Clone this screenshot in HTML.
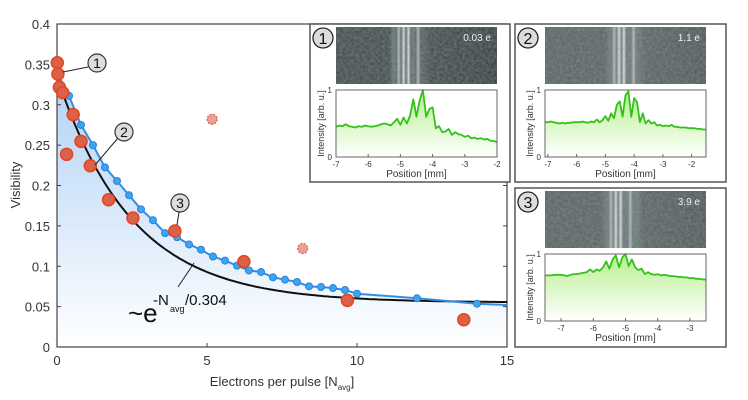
<!DOCTYPE html>
<html><head><meta charset="utf-8"><style>
html,body{margin:0;padding:0;background:#fff;}
svg{display:block;font-family:"Liberation Sans",Arial,sans-serif;}
</style></head><body>
<svg id="fig" width="748" height="400" viewBox="0 0 748 400" xmlns="http://www.w3.org/2000/svg">
<defs>
<linearGradient id="bluefill" x1="0" y1="0" x2="0" y2="1">
<stop offset="0" stop-color="#9cc6f3"/><stop offset="1" stop-color="#ffffff"/></linearGradient>
<linearGradient id="greenfill" x1="0" y1="0" x2="0" y2="1">
<stop offset="0" stop-color="#b6ef8c"/><stop offset="1" stop-color="#ffffff"/></linearGradient>
<filter id="noise" x="0" y="0" width="100%" height="100%">
<feTurbulence type="fractalNoise" baseFrequency="0.35" numOctaves="2" seed="3"/>
<feColorMatrix type="matrix" values="0 0 0 0 0.3  0 0 0 0 0.35  0 0 0 0 0.35  0 0 0 0.6 0"/>
<feComposite in2="SourceGraphic" operator="in"/>
</filter>
</defs>
<g id="main"></g>
<g id="insets"></g>
</svg>
<script>
// ---- main chart data ----
const blueX = [0,0.4,0.8,1.2,1.6,2.0,2.4,2.8,3.2,3.6,4.0,4.4,4.8,5.2,5.6,6.0,6.4,6.8,7.2,7.6,8.0,8.4,8.8,9.2,9.6,10.0,12,14,15];
const blueY = [0.34,0.311,0.275,0.250,0.2225,0.2056,0.188,0.1705,0.157,0.141,0.136,0.127,0.1205,0.112,0.107,0.1007,0.0948,0.0929,0.0863,0.0834,0.0805,0.0751,0.0743,0.073,0.0706,0.066,0.0603,0.0536,0.052];
const redX = [0.01,0.03,0.08,0.19,0.54,0.32,0.8,1.11,1.72,2.53,3.93,6.23,9.68,13.56];
const redY = [0.352,0.338,0.3216,0.315,0.2877,0.2386,0.2547,0.2245,0.1824,0.1598,0.1437,0.1057,0.0578,0.0338];
const outX = [5.17,8.19];
const outY = [0.282,0.122];
const fitParams = [0.055,0.28,2.5]; // offset, amplitude, decay
const xTicks = [0,5,10,15];
const yTicks = [0,0.05,0.1,0.15,0.2,0.25,0.3,0.35,0.4];
const yTickLabels = ["0","0.05","0.1","0.15","0.2","0.25","0.3","0.35","0.4"];
// ---- inset data ----
const prof1 = [.45,.47,.46,.49,.46,.45,.44,.46,.45,.47,.46,.45,.46,.47,.49,.50,.49,.47,.52,.57,.48,.59,.50,.62,.86,.60,.85,1.0,.6,.72,.74,.43,.46,.37,.38,.42,.33,.37,.34,.33,.30,.32,.28,.29,.27,.28,.26,.27,.24,.24,.22];
const prof2 = [.52,.52,.53,.52,.51,.50,.51,.50,.51,.51,.52,.52,.52,.53,.52,.51,.53,.52,.56,.52,.55,.61,.54,.65,.58,.78,.83,.6,.92,.98,.6,.88,.82,.52,.65,.5,.55,.5,.52,.47,.48,.46,.47,.46,.48,.45,.45,.44,.44,.44,.43,.43,.43,.42,.42,.41,.41];
const prof3 = [.68,.68,.68,.69,.69,.69,.68,.67,.69,.70,.70,.71,.72,.73,.77,.73,.77,.75,.80,.89,.78,.92,.98,.80,.95,1.0,.82,.92,.80,.76,.78,.70,.73,.70,.69,.70,.68,.69,.68,.67,.67,.66,.66,.65,.65,.64,.64,.63,.63,.62,.62];
const profStart = [-7.0,-7.1,-7.5];
const profDomain = [[-7,-2],[-7.1,-1.5],[-7.5,-2.5]];
const profTicks = [[-7,-6,-5,-4,-3,-2],[-7,-6,-5,-4,-3,-2],[-7,-6,-5,-4,-3]];
const insetLabels = ["0.03 e","1.1 e","3.9 e"];

const NS="http://www.w3.org/2000/svg";
function mk(tag,attrs,parent,txt){const e=document.createElementNS(NS,tag);for(const k in attrs)e.setAttribute(k,attrs[k]);if(txt!==undefined)e.textContent=txt;parent.appendChild(e);return e;}
const main=document.getElementById('main');
const X0=57,X1=507,Y0=347,Y1=24;
const sx=v=>X0+(v-0)/15*(X1-X0);
const sy=v=>Y0-(v/0.4)*(Y0-Y1);

let d='M'+sx(blueX[0])+','+Y0;
blueX.forEach((x,i)=>d+=' L'+sx(x).toFixed(1)+','+sy(blueY[i]).toFixed(1));
d+=' L'+sx(15)+','+Y0+' Z';
let e=mk('path',{d:d,fill:'url(#bluefill)',opacity:'0.8'},main);



e=mk('rect',{x:X0,y:Y1,width:X1-X0,height:Y0-Y1,fill:'none',stroke:'#444','stroke-width':1.2},main);


yTicks.forEach((v,i)=>{
  mk('line',{x1:X0,x2:X0+4,y1:sy(v),y2:sy(v),stroke:'#444'},main);
  mk('line',{x1:X1,x2:X1-4,y1:sy(v),y2:sy(v),stroke:'#444'},main);
  const t=mk('text',{x:50,y:sy(v)+5,'text-anchor':'end','font-size':13,fill:'#333'},main,yTickLabels[i]);
  
  
});
xTicks.forEach(v=>{
  mk('line',{x1:sx(v),x2:sx(v),y1:Y0,y2:Y0-4,stroke:'#444'},main);
  const t=mk('text',{x:sx(v),y:365,'text-anchor':'middle','font-size':13,fill:'#333'},main,String(v));
  
  
});
e=mk('text',{x:282,y:386,'text-anchor':'middle','font-size':13,fill:'#333'},main,'Electrons per pulse [N');


mk('tspan',{'font-size':8,dy:4},e,'avg');
mk('tspan',{dy:-4},e,']');
e=mk('text',{x:0,y:0,'text-anchor':'middle','font-size':13,fill:'#333',transform:'translate(20,185) rotate(-90)'},main,'Visibility');



let fd='';
for(let i=0;i<=150;i++){const x=i*0.1;const y=fitParams[0]+fitParams[1]*Math.exp(-x/fitParams[2]);fd+=(i?' L':'M')+sx(x).toFixed(1)+','+sy(y).toFixed(1);}
e=mk('path',{d:fd,fill:'none',stroke:'#111','stroke-width':2},main);



let bd='';blueX.forEach((x,i)=>bd+=(i?' L':'M')+sx(x).toFixed(1)+','+sy(blueY[i]).toFixed(1));
e=mk('path',{d:bd,fill:'none',stroke:'#2f8fe8','stroke-width':2},main);


blueX.forEach((x,i)=>{if(i===0||i===blueX.length-1)return;
  const c=mk('circle',{cx:sx(x),cy:sy(blueY[i]),r:3.5,fill:'#3aa6f2',stroke:'#2f7fd8','stroke-width':1},main);
  
  
});
outX.forEach((x,i)=>{
  const c=mk('circle',{cx:sx(x),cy:sy(outY[i]),r:5,fill:'#eaa098',stroke:'#e0553a','stroke-width':1.2,'stroke-dasharray':'2,1.5'},main);
  
  
});
redX.forEach((x,i)=>{
  const c=mk('circle',{cx:sx(x),cy:sy(redY[i]),r:6,fill:'#d9634a',stroke:'#e8431f','stroke-width':1.5},main);
  
  
});
const callouts=[[63,72,88,67,97,63,'1'],[95,165,118,138,124,132,'2'],[177,225,179,212,180,203,'3']];
callouts.forEach(c=>{
  mk('line',{x1:c[0],y1:c[1],x2:c[2],y2:c[3],stroke:'#222','stroke-width':1},main);
  const g=mk('g',{},main);
  
  
  mk('circle',{cx:c[4],cy:c[5],r:9,fill:'#ddd',stroke:'#333','stroke-width':1.2},g);
  mk('text',{x:c[4],y:c[5]+5,'text-anchor':'middle','font-size':14,fill:'#111'},g,c[6]);
});
mk('line',{x1:178,y1:287,x2:194,y2:263,stroke:'#222','stroke-width':1},main);
e=mk('g',{},main);


mk('text',{x:128,y:322,'font-size':26,fill:'#111'},e,'~e');
mk('text',{x:153,y:305,'font-size':15,fill:'#111'},e,'-N');
mk('text',{x:170,y:312,'font-size':9,fill:'#111'},e,'avg');
mk('text',{x:185,y:305,'font-size':15,fill:'#111'},e,'/0.304');

const ins=document.getElementById('insets');
const boxes=[[310,24,200,158],[515,24,211,158],[515,188,211,159]];
const stripeCenters=[[0.45],[0.49],[0.47]];
const profs=[prof1,prof2,prof3];
boxes.forEach((b,k)=>{
  const g=mk('g',{},ins);
  
  
  mk('rect',{x:b[0],y:b[1],width:b[2],height:b[3],fill:'#fff',stroke:'#555','stroke-width':1.5},g);
  const ix=b[0]+(k===0?26:30), iw=161, iy=b[1]+3, ih=57;
  const gid='img'+k;
  const lg=mk('linearGradient',{id:gid,x1:0,x2:1,y1:0,y2:0},document.querySelector('defs'));
  const c=stripeCenters[k][0], base=k===0?'#3c4646':'#56605f';
  const stops=[[0,base],[c-0.12,base]];
  const nStr=k===2?7:6;
  for(let s=0;s<nStr;s++){const o=c-0.09+s*0.03;const br=(s===3||s===2)?'#e8eeee':(s%2?'#b8c2c2':'#6a7676');stops.push([o,br]);stops.push([o+0.015,base===('#3c4646')?'#56605f':'#6c7676']);}
  stops.push([c+0.14,base],[1,k===0?'#2f3838':'#4a5454']);
  stops.forEach(s=>mk('stop',{offset:Math.max(0,Math.min(1,s[0])),'stop-color':s[1]},lg));
  const im=mk('rect',{x:ix,y:iy,width:iw,height:ih,fill:'url(#'+gid+')'},g);
  
  
  mk('rect',{x:ix,y:iy,width:iw,height:ih,fill:'#000',filter:'url(#noise)'},g);
  mk('text',{x:ix+iw-6,y:iy+14,'text-anchor':'end','font-size':10,fill:'#eee'},g,insetLabels[k]);
  const cc=mk('g',{},g);
  
  
  mk('circle',{cx:b[0]+13,cy:b[1]+14,r:10,fill:'#ddd',stroke:'#222','stroke-width':1.3},cc);
  mk('text',{x:b[0]+13,y:b[1]+20,'text-anchor':'middle','font-size':16,fill:'#111'},cc,String(k+1));
  const px0=ix,px1=ix+iw,py0=iy+ih+6,py1=py0+67;
  const dom=profDomain[k];
  const psx=v=>px0+(v-dom[0])/(dom[1]-dom[0])*(px1-px0);
  const psy=v=>py1-v*(py1-py0);
  const p=profs[k];
  let ld='';p.forEach((v,i)=>ld+=(i?' L':'M')+psx(profStart[k]+i*0.1).toFixed(1)+','+psy(v).toFixed(1));
  const fillD=ld+' L'+psx(profStart[k]+(p.length-1)*0.1).toFixed(1)+','+py1+' L'+psx(profStart[k]).toFixed(1)+','+py1+' Z';
  e=mk('path',{d:fillD,fill:'url(#greenfill)'},g);
  
  
  e=mk('path',{d:ld,fill:'none',stroke:'#33c21a','stroke-width':1.8,'stroke-linejoin':'round'},g);
  
  
  mk('rect',{x:px0,y:py0,width:px1-px0,height:py1-py0,fill:'none',stroke:'#666','stroke-width':1},g);
  [0,1].forEach(v=>mk('text',{x:px0-4,y:psy(v)+3,'text-anchor':'end','font-size':8,fill:'#333'},g,String(v)));
  profTicks[k].forEach(v=>{
    mk('line',{x1:psx(v),x2:psx(v),y1:py1,y2:py1-3,stroke:'#666'},g);
    mk('text',{x:psx(v),y:py1+10,'text-anchor':'middle','font-size':8,fill:'#333'},g,String(v));
  });
  mk('text',{x:(px0+px1)/2,y:py1+20,'text-anchor':'middle','font-size':10,fill:'#333'},g,'Position [mm]');
  mk('text',{x:0,y:0,'text-anchor':'middle','font-size':9,fill:'#333',transform:'translate('+(px0-12)+','+((py0+py1)/2)+') rotate(-90)'},g,'Intensity [arb. u.]');
});
</script>
</body></html>
